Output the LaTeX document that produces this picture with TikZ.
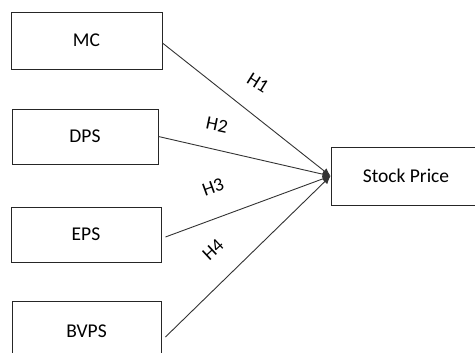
\documentclass[tikz,border=0pt]{standalone}
\usepackage{fontspec}
\setmainfont{Carlito}
\usetikzlibrary{arrows.meta}
\begin{document}
\begin{tikzpicture}[x=1pt,y=-1pt,
  varbox/.style={draw=black!85,line width=0.9pt,fill=white,inner sep=0pt,
    font=\fontsize{19.5}{22}\selectfont},
  link/.style={draw=black!80,line width=0.9pt,-{Latex[length=8pt,width=7pt]}},
  hyp/.style={font=\fontsize{19}{22}\selectfont,inner sep=0pt}]
  \clip (0,0) rectangle (475,353);
  \useasboundingbox (0,0) rectangle (475,353);
  % independent variables
  \node[varbox,minimum width=151pt,minimum height=57pt] (mc)   at (86.5,40.5)  {MC};
  \node[varbox,minimum width=146pt,minimum height=55pt] (dps)  at (85,136.5)   {DPS};
  \node[varbox,minimum width=150pt,minimum height=55pt] (eps)  at (86,234.5)   {EPS};
  \node[varbox,minimum width=149pt,minimum height=60pt] (bvps) at (86.5,331)   {BVPS};
  % dependent variable
  \node[varbox,minimum width=150pt,minimum height=58pt] (sp)   at (406,176)    {Stock Price};
  % start points of the hypothesis paths
  \coordinate (s1) at ([yshift=-2.5pt]mc.east);
  \coordinate (s3) at ([xshift=4pt,yshift=-2.5pt]eps.east);
  \coordinate (s4) at ([xshift=4pt,yshift=-6pt]bvps.east);
  \draw[link] (s1) -- (sp.west);
  \draw[link] (dps.east) -- (sp.west);
  \draw[link] (s3) -- (sp.west);
  \draw[link] (s4) -- (sp.west);
  % hypothesis labels
  \node[hyp,rotate=-32] (h1) at (258,83)  {H1};
  \node[hyp,rotate=-12] (h2) at (217,125) {H2};
  \node[hyp,rotate=20]  (h3) at (213,187) {H3};
  \node[hyp,rotate=43]  (h4) at (213,250) {H4};
\end{tikzpicture}
\end{document}
